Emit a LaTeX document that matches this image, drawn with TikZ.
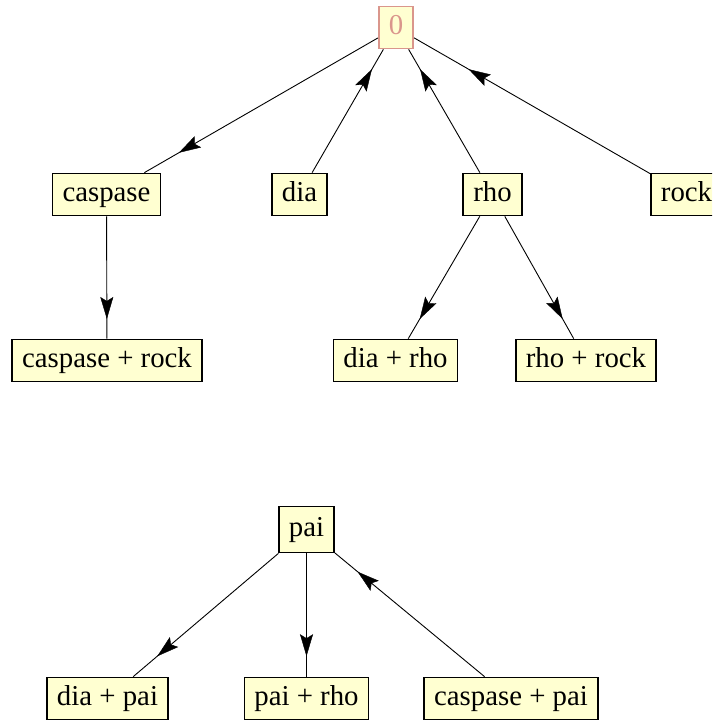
\documentclass[tikz,border=0pt]{standalone}
\usepackage{fontspec}
\setmainfont{Liberation Serif}
\usetikzlibrary{arrows.meta,decorations.markings}
\definecolor{boxfill}{rgb}{1,1,0.82}
\definecolor{pinkline}{RGB}{218,150,140}
\tikzset{
  box/.style={draw=black, line width=1.7pt, fill=boxfill, font=\fontsize{28.8}{30}\selectfont,
    inner xsep=10pt, inner ysep=8pt, text height=20pt, text depth=6pt},
  rootbox/.style={box, draw=pinkline, text=pinkline},
  edgeline/.style={draw=black, line width=0.9pt},
  midarrow/.style={decorate, decoration={markings,
    mark=at position 0.75 with {\arrow[black]{Stealth[length=22pt,width=13pt,inset=4pt]}}}}
}
\newcommand\medge[2]{%
  \draw[edgeline] (#1) -- (#2);
  \path[midarrow] (#1.center) -- (#2.center);}
\begin{document}
\begin{tikzpicture}[x=1pt,y=-1pt]
\clip (0,0) rectangle (712,725);
\fill[white] (0,0) rectangle (712,725);
\node[rootbox] (n0) at (396,27.5) {0};
\node[box] (casp) at (106.5,194.5) {caspase};
\node[box] (dia) at (299.5,194.5) {dia};
\node[box] (rho) at (492.5,194.5) {rho};
\node[box] (rock) at (686.5,194.5) {rock};
\node[box] (casprock) at (107,360.5) {caspase + rock};
\node[box] (diarho) at (395.5,360.5) {dia + rho};
\node[box] (rhorock) at (586,360.5) {rho + rock};
\node[box, minimum height=46pt] (pai) at (306.5,529.5) {pai};
\node[box] (diapai) at (107.5,698.5) {dia + pai};
\node[box] (pairho) at (306.5,698.5) {pai + rho};
\node[box] (casppai) at (511,698.5) {caspase + pai};
\medge{n0}{casp}
\medge{dia}{n0}
\medge{rho}{n0}
\medge{rock}{n0}
\medge{casp}{casprock}
\medge{rho}{diarho}
\medge{rho}{rhorock}
\medge{pai}{diapai}
\medge{pai}{pairho}
\medge{casppai}{pai}
\end{tikzpicture}
\end{document}
